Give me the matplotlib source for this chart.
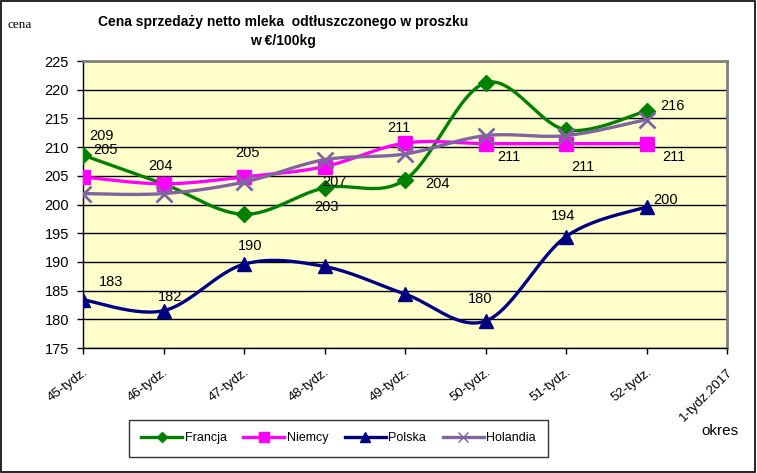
import numpy as np
import matplotlib
matplotlib.use("Agg")
import matplotlib.pyplot as plt
from matplotlib import font_manager as fm
from matplotlib.lines import Line2D
from matplotlib.patches import Rectangle

categories = ["45-tydz.", "46-tydz.", "47-tydz.", "48-tydz.", "49-tydz.",
              "50-tydz.", "51-tydz.", "52-tydz.", "1-tydz.2017"]
francja = [208.6, 203.6, 198.3, 202.9, 204.3, 221.2, 213.0, 216.3]
niemcy = [204.8, 203.6, 204.8, 206.6, 210.7, 210.6, 210.6, 210.6]
polska = [183.4, 181.5, 189.6, 189.2, 184.4, 179.7, 194.4, 199.6]
holandia = [201.9, 201.9, 203.9, 207.8, 208.8, 212.0, 212.0, 214.8]

# which points carry a data label, and pixel offsets of the label centre
francja_labels = {0: (18, 19), 4: (33, -4), 3: (2, -19), 7: (26, 5)}
niemcy_labels = {0: (22, 27), 1: (-3, 18), 2: (4, 24), 3: (10, -15), 4: (-6, 15),
                 5: (23, -13), 6: (17, -23), 7: (27, -13)}
polska_labels = {0: (28, 18), 1: (7, 14), 2: (6, 18), 5: (-5, 22), 6: (-3, 21), 7: (19, 7)}

plt.rcParams['font.family'] = ['Liberation Sans', 'DejaVu Sans']

names = {f.name for f in fm.fontManager.ttflist}
if 'Liberation Sans Narrow' in names:
    title_font, title_size = ['Liberation Sans Narrow', 'Liberation Sans'], 11
else:
    title_font, title_size = ['Liberation Sans', 'DejaVu Sans'], 10

fig = plt.figure(figsize=(7.57, 4.73), dpi=100)
fig.patch.set_facecolor('white')
fig.patches.append(Rectangle((0.001, 0.002), 0.997, 0.996, transform=fig.transFigure,
                             fill=False, edgecolor='black', linewidth=1.2))

ax = fig.add_axes([83/757, 1-348/473, 644/757, 287/473])
ax.set_facecolor('#FFFFCC')


def smooth(xs, ys, n=30):
    p = np.column_stack([xs, ys]).astype(float)
    p = np.vstack([p[0], p, p[-1]])
    out = []
    for i in range(1, len(p) - 2):
        p0, p1, p2, p3 = p[i-1], p[i], p[i+1], p[i+2]
        t = np.linspace(0, 1, n)[:, None]
        c1 = p1 + (p2 - p0) / 6
        c2 = p2 - (p3 - p1) / 6
        seg = ((1-t)**3) * p1 + 3*((1-t)**2)*t*c1 + 3*(1-t)*t**2*c2 + t**3*p2
        out.append(seg)
    s = np.vstack(out)
    return s[:, 0], s[:, 1]


x = np.arange(len(francja))
series = [
    ("Francja", francja, '#008000', 'D', 8, 5),
    ("Niemcy", niemcy, '#FF00FF', 's', 10, 7),
    ("Polska", polska, '#000080', '^', 10, 7),
    ("Holandia", holandia, '#8064A2', 'x', 12, 7),
]
zs = {"Polska": 3, "Francja": 4, "Niemcy": 5, "Holandia": 6}
for name, vals, col, mk, ms, lms in series:
    sx, sy = smooth(x, vals)
    ax.plot(sx, sy, color=col, lw=2.4, zorder=zs[name], solid_capstyle='round')
    ax.plot(x, vals, linestyle='none', marker=mk, color=col, markersize=ms,
            markeredgewidth=2 if mk == 'x' else 1, zorder=zs[name])

for vals, labs in [(francja, francja_labels), (niemcy, niemcy_labels), (polska, polska_labels)]:
    for i, (dx, dy) in labs.items():
        ax.annotate(f"{int(vals[i] + 0.5):d}", (x[i], vals[i]), xytext=(dx, dy),
                    textcoords='offset pixels', ha='center', va='center',
                    fontsize=10.5, color='black', zorder=10)

ax.set_xlim(0, 8)
ax.set_ylim(175, 225)
ax.set_yticks(np.arange(175, 226, 5))
ax.set_xticks(np.arange(len(categories)))
ax.set_xticklabels(categories, ha='right', va='top', rotation_mode='anchor', fontsize=9.5)
for i, lab in enumerate(ax.get_xticklabels()):
    lab.set_rotation(45 if i == len(categories) - 1 else 37)
ax.yaxis.grid(True, color='black', linewidth=1)
ax.set_axisbelow(True)
ax.tick_params(axis='both', direction='out', length=4, width=1, colors='black')
ax.tick_params(axis='y', pad=6, labelsize=10.5)
ax.tick_params(axis='x', pad=9)
for s in ['top', 'right']:
    ax.spines[s].set_color('#808080')
    ax.spines[s].set_linewidth(2)
for s in ['left', 'bottom']:
    ax.spines[s].set_color('black')
    ax.spines[s].set_linewidth(1)

fig.text(283/757, 1-22/473, "Cena sprzedaży netto mleka  odtłuszczonego w proszku",
         ha='center', va='center', fontsize=title_size, fontweight='bold', family=title_font)
fig.text(283/757, 1-41/473, "w €/100kg", ha='center', va='center', fontsize=title_size,
         fontweight='bold', family=title_font)
fig.text(8/757, 1-25/473, "cena", ha='left', va='center', fontsize=9.5,
         family=['Liberation Serif', 'DejaVu Serif'])
fig.text(720/757, 1-431/473, "okres", ha='center', va='center', fontsize=11)

handles = [Line2D([], [], color=col, lw=2.4, marker=mk, markersize=lms,
                  markeredgewidth=1) for name, vals, col, mk, ms, lms in series]
leg = fig.legend(handles, [s[0] for s in series], loc='center',
                 bbox_to_anchor=((134+543)/2/757, 1-438/473), ncol=4, fontsize=9,
                 frameon=True, fancybox=False, edgecolor='black', handlelength=3.3,
                 columnspacing=1.3, handletextpad=0.2, borderpad=1.0, borderaxespad=0)
leg.get_frame().set_linewidth(1)

fig.savefig("out.png", dpi=100)
